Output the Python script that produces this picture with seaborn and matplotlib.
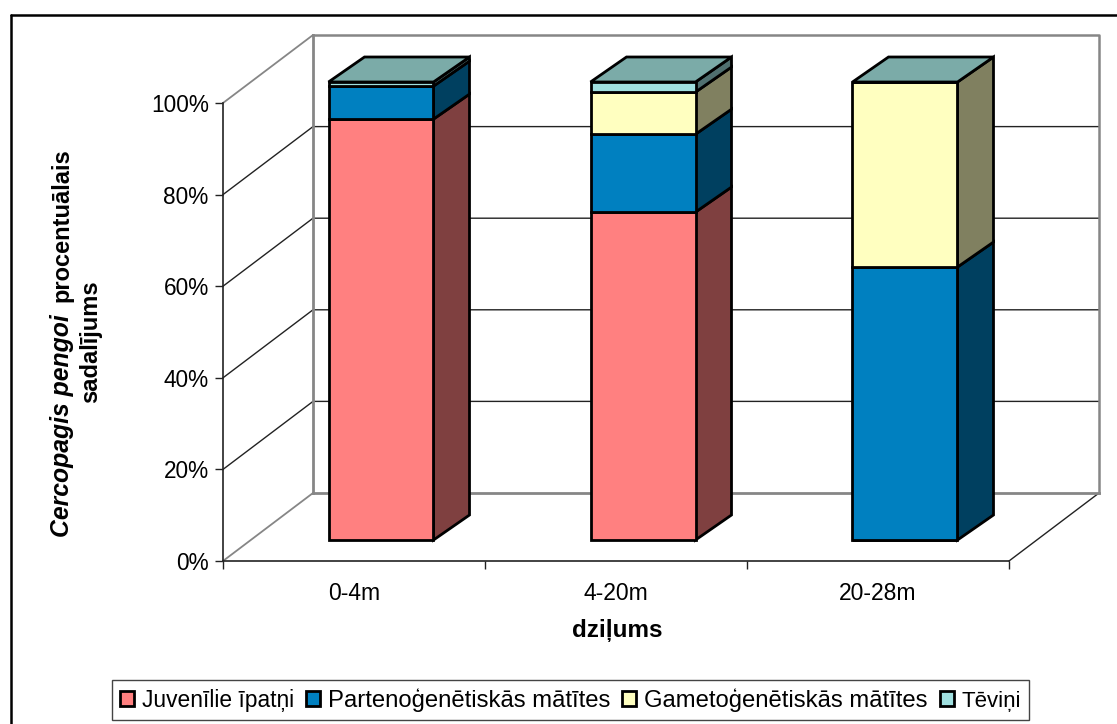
import numpy as np
import matplotlib
matplotlib.use("Agg")
import matplotlib.pyplot as plt
from matplotlib.lines import Line2D
from matplotlib.patches import Polygon
import seaborn as sns

# Stage shares by depth layer, percent
depths = ["0-4m", "4-20m", "20-28m"]
juvenile = [91.9, 71.6, 0.0]
parthenogenetic = [7.2, 17.0, 59.6]
gametogenetic = [0.0, 9.2, 40.4]
males = [0.9, 2.2, 0.0]

series_names = ["Juvenīlie īpatņi", "Partenoģenētiskās mātītes",
                "Gametoģenētiskās mātītes", "Tēviņi"]
front_colors = ["#FF8080", "#0080C0", "#FFFFC0", "#A0E0E0"]
side_colors = ["#7F4040", "#004060", "#808060", "#507070"]
top_color = "#7BABA8"

sns.set_theme(style="white")
plt.rcParams["font.family"] = ["Liberation Sans", "DejaVu Sans"]

W, H = 1117, 724
fig = plt.figure(figsize=(W / 100, H / 100), dpi=100, facecolor="white")
ax = fig.add_axes([223 / W, 1 - 561 / H, (1009 - 223) / W, (561 - 103) / H])
ax.set_xlim(-0.5, 2.5)
ax.set_ylim(0, 100)
ax.patch.set_alpha(0)

px_x = 3 / (1009 - 223)   # category units per pixel
px_y = 100 / (561 - 103)  # percent units per pixel

# Oblique projection of the box: wall depth, bar inset and bar depth
wall_dx, wall_dy = 90 * px_x, 68 * px_y
inset_dx, inset_dy = 27 * px_x, 21 * px_y
bar_dx, bar_dy = 36 * px_x, 25 * px_y
bar_width = 105 * px_x

GREY = "#868686"
DARK = "#222222"
LINE_KW = dict(clip_on=False, solid_capstyle="projecting")

# Gridlines on the back and side walls
for v in range(20, 100, 20):
    ax.plot([-0.5, -0.5 + wall_dx, 2.5 + wall_dx],
            [v, v + wall_dy, v + wall_dy],
            color=DARK, lw=1.0, zorder=0.5, **LINE_KW)

# Wall and floor outlines
ax.plot([2.5, 2.5 + wall_dx], [0, wall_dy], color=DARK, lw=1.0, zorder=0.5, clip_on=False)
for v in (0, 100):
    ax.plot([-0.5, -0.5 + wall_dx], [v, v + wall_dy], color=GREY, lw=1.3, zorder=0.6, clip_on=False)
ax.plot([-0.5 + wall_dx, 2.5 + wall_dx], [wall_dy, wall_dy],
        color=GREY, lw=2.0, zorder=0.6, **LINE_KW)
ax.plot([-0.5 + wall_dx, 2.5 + wall_dx, 2.5 + wall_dx],
        [100 + wall_dy, 100 + wall_dy, wall_dy],
        color=GREY, lw=1.8, zorder=0.6, **LINE_KW)
ax.plot([-0.5 + wall_dx] * 2, [wall_dy, 100 + wall_dy],
        color=GREY, lw=2.0, zorder=0.6, **LINE_KW)

# Stacked front faces, with side and top faces projected from the same values
positions = np.arange(len(depths)) + inset_dx
stack = [juvenile, parthenogenetic, gametogenetic, males]
base = np.zeros(len(depths)) + inset_dy
for name, vals, fc, sc in zip(series_names, stack, front_colors, side_colors):
    vals = np.asarray(vals)
    sns.barplot(x=positions, y=vals, bottom=base, color=fc, saturation=1,
                width=bar_width, native_scale=True, edgecolor="black",
                linewidth=2.0, errorbar=None, label=name, zorder=3, ax=ax,
                clip_on=False)
    for xc, b, v in zip(positions, base, vals):
        if v > 0:
            xr = xc + bar_width / 2
            ax.add_patch(Polygon([(xr, b), (xr + bar_dx, b + bar_dy),
                                  (xr + bar_dx, b + v + bar_dy), (xr, b + v)],
                                 facecolor=sc, edgecolor="black", lw=2.0,
                                 zorder=2.5, clip_on=False, joinstyle="miter"))
    base = base + vals

for xc, b in zip(positions, base):
    xl, xr = xc - bar_width / 2, xc + bar_width / 2
    ax.add_patch(Polygon([(xl, b), (xr, b), (xr + bar_dx, b + bar_dy),
                          (xl + bar_dx, b + bar_dy)],
                         facecolor=top_color, edgecolor="black", lw=2.0,
                         zorder=2.6, clip_on=False, joinstyle="miter"))

# Axes: category ticks sit between groups, labels at group centres
ax.set_xticks([-0.5, 0.5, 1.5, 2.5])
ax.set_xticklabels([])
ax.set_xticks([0, 1, 2], minor=True)
ax.set_xticklabels(depths, minor=True, fontsize=16.5)
ax.set_yticks(range(0, 101, 20))
ax.set_yticklabels([f"{v}%" for v in range(0, 101, 20)], fontsize=16.3)
ax.tick_params(axis="x", which="major", bottom=True, length=6, width=1, color=DARK)
ax.tick_params(axis="x", which="minor", bottom=False, pad=11, labelcolor="black")
ax.tick_params(axis="y", left=True, length=6, width=1, color=DARK, pad=4.3, labelcolor="black")
sns.despine(ax=ax, top=True, right=True)
for s in ("left", "bottom"):
    ax.spines[s].set_color(DARK)
    ax.spines[s].set_linewidth(1.2)
ax.set_xlabel("")
ax.set_ylabel("")
ax.grid(False)

# Axis titles
fig.text(617 / W, 1 - 631 / H, "dziļums", fontsize=17.5, fontweight="bold",
         ha="center", va="center", color="black")
fig.text(62 / W, 1 - 537 / H, "Cercopagis pengoi", fontsize=17.8, fontweight="bold",
         fontstyle="italic", rotation=90, ha="center", va="bottom", color="black")
fig.text(62 / W, 1 - 148 / H, "procentuālais", fontsize=17, fontweight="bold",
         rotation=90, ha="center", va="top", color="black")
fig.text(91 / W, 1 - 341.5 / H, "sadalījums", fontsize=17, fontweight="bold",
         rotation=90, ha="center", va="center", color="black")

# Legend strip along the bottom
leg = ax.legend(loc="center", bbox_to_anchor=(570.5 / W, 1 - 700 / H),
                bbox_transform=fig.transFigure, ncol=4, fontsize=17,
                frameon=True, fancybox=False, edgecolor="#444444", framealpha=1,
                handlelength=0.6, handleheight=0.6, handletextpad=0.34,
                columnspacing=0.5, borderpad=0.33, labelcolor="black")
leg.get_frame().set_linewidth(1.0)
for text, size in zip(leg.get_texts(), [16.4, 17.2, 17.2, 16.0]):
    text.set_fontsize(size)

# Chart frame: only the top and left edges fall inside the canvas
frame_x, frame_y = 10.5 / W, 1 - 14.5 / H
for xs, ys in (([frame_x, frame_x], [0, frame_y]), ([frame_x, 1], [frame_y, frame_y])):
    fig.add_artist(Line2D(xs, ys, transform=fig.transFigure, color="black", lw=1.8))

fig.savefig("out.png", dpi=100)
